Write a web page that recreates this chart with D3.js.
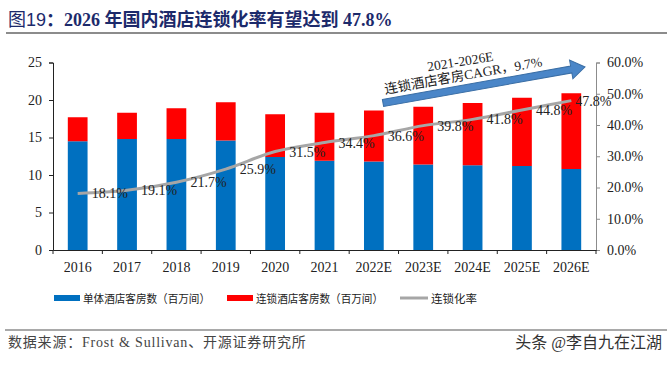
<!DOCTYPE html>
<html>
<head>
    <meta charset="utf-8">
    <title>2026年国内酒店连锁化率</title>
    <script src="https://cdn.jsdelivr.net/npm/d3@7/dist/d3.min.js"></script>
    <style>
        body { margin: 0; background: #fff; }
        text { font-family: "Liberation Serif", "Noto Sans CJK SC", serif; }
    </style>
</head>
<body>
    <svg width="672" height="365"></svg>
    <script>
        const categories = ['2016','2017','2018','2019','2020','2021','2022E','2023E','2024E','2025E','2026E'];
        const independentRooms = [14.5, 14.8, 14.8, 14.6, 12.4, 11.9, 11.8, 11.4, 11.3, 11.2, 10.8];
        const chainRooms = [3.2, 3.5, 4.1, 5.1, 5.7, 6.4, 6.8, 7.7, 8.3, 9.1, 10.1];
        const chainRate = [0.181, 0.191, 0.217, 0.259, 0.315, 0.344, 0.366, 0.398, 0.418, 0.448, 0.478];
        const leftTicks = [0, 5, 10, 15, 20, 25];
        const rightTicks = [0, 0.1, 0.2, 0.3, 0.4, 0.5, 0.6];

        const blue = '#0070c0';
        const red = '#ff0000';
        const grey = '#a6a6a6';

        const svg = d3.select('svg');
        const plotL = 53, plotR = 596, plotT = 62.5, plotB = 250;

        const x = d3.scaleBand()
            .domain(categories)
            .range([plotL, plotR])
            .paddingInner(0.6)
            .paddingOuter(0.3);
        const y = d3.scaleLinear().domain([0, 25]).range([plotB, plotT]);
        const y2 = d3.scaleLinear().domain([0, 0.6]).range([plotB, plotT]);

        // title
        const title = svg.append('text')
            .attr('x', 8).attr('y', 26)
            .attr('font-size', 18)
            .attr('fill', '#1c2a6b');
        title.append('tspan').attr('font-family', '"Noto Sans CJK SC", sans-serif').text('图');
        title.append('tspan').attr('font-family', '"Liberation Sans", sans-serif').attr('font-weight', 300).text('19');
        title.append('tspan').attr('font-weight', 'bold').text('：2026 年国内酒店连锁化率有望达到 47.8%');

        svg.append('line')
            .attr('x1', 6).attr('x2', 667).attr('y1', 33).attr('y2', 33)
            .attr('stroke', '#8c8c8c').attr('stroke-width', 2);

        // bars
        const rows = categories.map((c, i) => ({ c, a: independentRooms[i], b: chainRooms[i] }));
        svg.append('g').selectAll('rect').data(rows).join('rect')
            .attr('x', d => x(d.c))
            .attr('width', x.bandwidth())
            .attr('y', d => y(d.a))
            .attr('height', d => y(0) - y(d.a))
            .attr('fill', blue);
        svg.append('g').selectAll('rect').data(rows).join('rect')
            .attr('x', d => x(d.c))
            .attr('width', x.bandwidth())
            .attr('y', d => y(d.a + d.b))
            .attr('height', d => y(d.a) - y(d.a + d.b))
            .attr('fill', red);

        // left axis
        const gl = svg.append('g')
            .attr('transform', `translate(${plotL},0)`)
            .call(d3.axisLeft(y).tickValues(leftTicks).tickSize(4).tickPadding(7));
        gl.selectAll('text').attr('font-size', 14).attr('fill', '#222').attr('font-family', '"Liberation Serif", serif');
        gl.selectAll('path, line').attr('stroke', '#222');

        // right axis
        const gr = svg.append('g')
            .attr('transform', `translate(${plotR},0)`)
            .call(d3.axisRight(y2).tickValues(rightTicks).tickFormat(d3.format('.1%')).tickSize(4).tickPadding(7));
        gr.selectAll('text').attr('font-size', 14).attr('fill', '#222').attr('font-family', '"Liberation Serif", serif');
        gr.selectAll('path, line').attr('stroke', '#8c8c8c');

        // bottom axis
        const gb = svg.append('g')
            .attr('transform', `translate(0,${plotB})`)
            .call(d3.axisBottom(x).tickSize(0).tickPadding(12));
        gb.selectAll('text').attr('font-size', 14).attr('fill', '#222').attr('font-family', '"Liberation Serif", serif');
        gb.select('.domain').attr('stroke', '#222');
        gb.append('g').selectAll('line').data(d3.range(categories.length + 1)).join('line')
            .attr('x1', i => plotL + i * x.step()).attr('x2', i => plotL + i * x.step())
            .attr('y1', 0).attr('y2', 4)
            .attr('stroke', '#222');

        // rate line
        const cx = c => x(c) + x.bandwidth() / 2;
        const line = d3.line()
            .x((d, i) => cx(categories[i]))
            .y(d => y2(d))
            .curve(d3.curveMonotoneX);
        svg.append('path')
            .datum(chainRate)
            .attr('d', line)
            .attr('fill', 'none')
            .attr('stroke', grey)
            .attr('stroke-width', 3);

        svg.append('g').selectAll('text').data(chainRate).join('text')
            .attr('x', (d, i) => cx(categories[i]) + (i === chainRate.length - 1 ? 4 : 14))
            .attr('y', d => y2(d) + 5)
            .attr('font-size', 14)
            .attr('fill', '#222')
            .text(d => d3.format('.1%')(d));

        // CAGR arrow
        const tail = [383, 103], tip = [585, 67];
        const ang = Math.atan2(tip[1] - tail[1], tip[0] - tail[0]) * 180 / Math.PI;
        const len = Math.hypot(tip[0] - tail[0], tip[1] - tail[1]);
        const arrow = svg.append('g')
            .attr('transform', `translate(${tail[0]},${tail[1]}) rotate(${ang})`);
        arrow.append('path')
            .attr('d', `M0,-3.5 L${len - 14},-3.5 L${len - 14},-9.5 L${len},0 L${len - 14},9.5 L${len - 14},3.5 L0,3.5 Z`)
            .attr('fill', '#4a86c8')
            .attr('stroke', '#3a6ea5')
            .attr('stroke-width', 1);

        svg.append('text')
            .attr('transform', `translate(461,66) rotate(${ang + 1})`)
            .attr('text-anchor', 'middle')
            .attr('font-size', 13.5)
            .attr('fill', '#222')
            .text('2021-2026E');
        svg.append('text')
            .attr('transform', `translate(464,80) rotate(${ang})`)
            .attr('text-anchor', 'middle')
            .attr('font-size', 13.5)
            .attr('fill', '#222')
            .text('连锁酒店客房CAGR，9.7%');

        // legend
        const legend = svg.append('g').attr('font-size', 11.5).attr('fill', '#222');
        legend.append('rect').attr('x', 54).attr('y', 295).attr('width', 26).attr('height', 6).attr('fill', blue);
        legend.append('text').attr('x', 83).attr('y', 302.5)
            .attr('textLength', 127).attr('lengthAdjust', 'spacingAndGlyphs')
            .text('单体酒店客房数（百万间）');
        legend.append('rect').attr('x', 227).attr('y', 295).attr('width', 26).attr('height', 6).attr('fill', red);
        legend.append('text').attr('x', 256).attr('y', 302.5)
            .attr('textLength', 127).attr('lengthAdjust', 'spacingAndGlyphs')
            .text('连锁酒店客房数（百万间）');
        legend.append('line').attr('x1', 400).attr('x2', 428).attr('y1', 298).attr('y2', 298)
            .attr('stroke', grey).attr('stroke-width', 3);
        legend.append('text').attr('x', 431).attr('y', 302.5).text('连锁化率');

        // footer
        svg.append('line')
            .attr('x1', 5).attr('x2', 667).attr('y1', 330).attr('y2', 330)
            .attr('stroke', '#555').attr('stroke-width', 1.2);
        svg.append('text')
            .attr('x', 8).attr('y', 347)
            .attr('font-size', 14)
            .attr('letter-spacing', 0.8)
            .attr('fill', '#444')
            .text('数据来源：Frost & Sullivan、开源证券研究所');
        svg.append('text')
            .attr('x', 662).attr('y', 348)
            .attr('text-anchor', 'end')
            .attr('font-size', 16)
            .attr('font-family', '"Noto Sans CJK SC", sans-serif')
            .attr('fill', '#333')
            .text('头条 @李自九在江湖');
    </script>
</body>
</html>
